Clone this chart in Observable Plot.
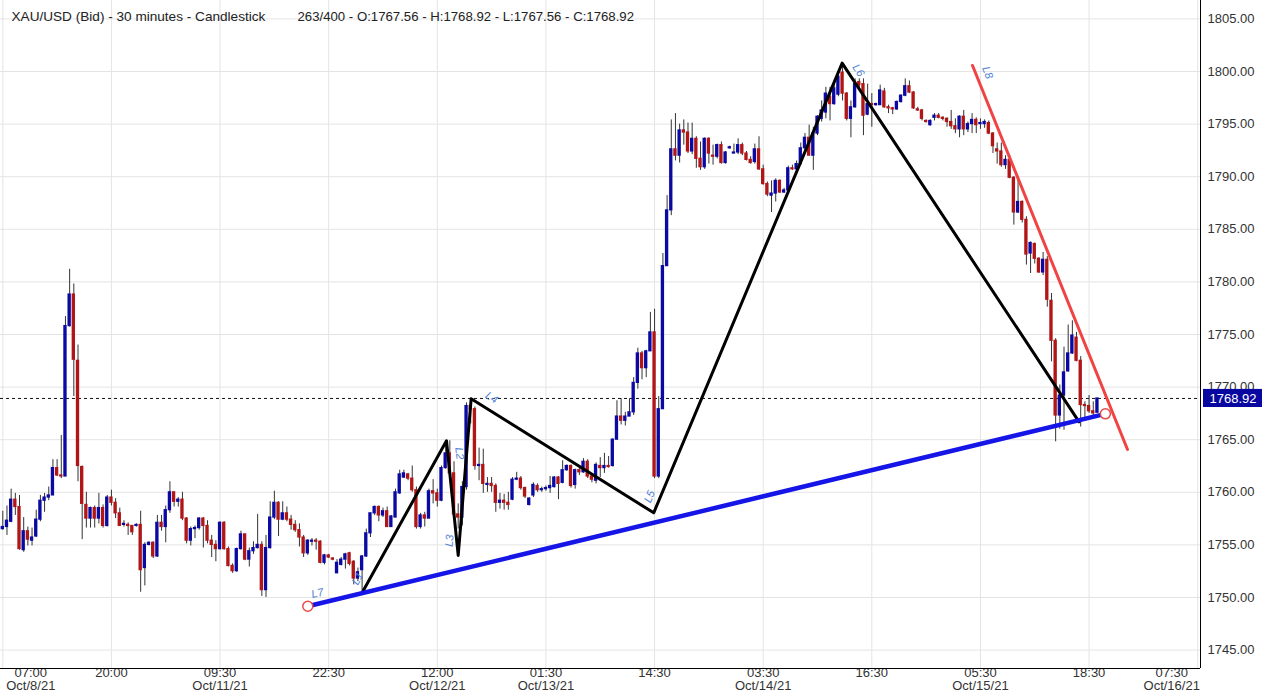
<!DOCTYPE html>
<html>
<head>
<meta charset="utf-8">
<script src="https://cdn.jsdelivr.net/npm/d3@7"></script>
<script src="https://cdn.jsdelivr.net/npm/@observablehq/plot@0.6"></script>
<style>
  html, body { margin: 0; padding: 0; background: #fff; }
</style>
</head>
<body>
<div id="chart"></div>
<script>
// XAU/USD 30 min candles, bar 0 = Oct 8 07:00 ... bar 262 = last bar
const opens = [
  1756.5,1756.7,1757.2,1759.3,1758.6,1754.5,1756.3,1755.4,1755.8,1757.4,
  1759.2,1759.5,1759.7,1762.3,1761.6,1761.5,1775.8,1778.8,1772.5,1762.4,
  1758.8,1757.5,1758.5,1757.5,1758.5,1756.8,1759.5,1759.0,1758.0,1756.9,
  1756.9,1756.8,1756.8,1756.9,1752.8,1755.0,1755.2,1753.9,1757.1,1756.7,
  1758.3,1760.0,1759.1,1759.3,1757.5,1755.4,1756.5,1756.6,1757.5,1756.8,
  1755.4,1755.0,1754.6,1757.1,1754.6,1753.0,1752.5,1754.6,1756.0,1753.6,
  1754.4,1754.7,1755.0,1750.7,1754.7,1757.6,1759.0,1757.4,1758.0,1757.4,
  1756.9,1756.4,1755.7,1754.2,1755.3,1755.4,1755.3,1753.3,1754.0,1753.7,
  1752.3,1753.1,1753.6,1754.2,1753.4,1751.8,1752.6,1753.9,1756.1,1758.0,
  1758.6,1757.8,1758.2,1756.7,1757.6,1759.9,1761.4,1761.7,1761.3,1760.2,
  1756.7,1757.8,1757.5,1760.1,1759.9,1759.2,1762.3,1763.7,1761.8,1757.9,
  1757.6,1760.5,1768.2,1767.9,1762.5,1762.6,1760.7,1760.8,1760.6,1759.0,
  1759.2,1759.0,1759.3,1761.2,1761.3,1760.4,1758.8,1759.7,1760.6,1760.2,
  1760.3,1760.4,1760.5,1761.4,1760.9,1762.1,1762.5,1760.7,1762.1,1761.9,
  1762.9,1761.5,1761.1,1762.5,1762.3,1762.5,1762.5,1765.0,1767.2,1766.8,
  1767.2,1767.6,1770.4,1773.2,1771.8,1773.4,1775.2,1761.5,1767.9,1781.5,
  1786.8,1792.6,1792.0,1794.4,1794.2,1792.4,1793.6,1791.7,1790.9,1793.6,
  1792.0,1791.9,1793.0,1791.3,1792.7,1792.2,1792.3,1793.0,1792.2,1791.6,
  1791.4,1792.6,1790.7,1789.3,1788.2,1788.4,1789.6,1788.5,1788.7,1790.8,
  1790.7,1791.2,1792.7,1793.7,1792.0,1794.1,1795.5,1796.1,1797.6,1796.9,
  1797.8,1799.9,1797.9,1795.5,1796.6,1799.0,1798.8,1795.9,1796.9,1796.8,
  1796.8,1798.1,1796.6,1796.5,1796.4,1797.1,1797.7,1798.6,1798.0,1796.4,
  1796.3,1795.3,1794.9,1795.6,1795.8,1795.6,1795.5,1795.2,1794.8,1794.5,
  1795.7,1794.5,1795.0,1795.4,1795.0,1795.0,1795.1,1794.1,1792.6,1792.4,
  1791.1,1791.6,1789.9,1786.6,1787.6,1785.9,1782.7,1783.6,1782.2,1780.9,
  1782.1,1778.2,1774.4,1767.3,1769.2,1771.5,1773.2,1774.7,1772.5,1768.3,
  1768.2,1767.7,1767.56
];
const highs = [
  1758.2,1758.7,1760.3,1759.9,1759.7,1757.6,1756.7,1756.6,1758.3,1759.7,
  1759.9,1760.5,1763.1,1763.1,1765.4,1776.7,1781.2,1779.8,1774.0,1762.5,
  1760.0,1758.6,1758.7,1759.9,1758.8,1759.7,1760.2,1759.4,1758.5,1757.3,
  1757.1,1756.8,1757.0,1758.2,1755.2,1755.3,1755.3,1757.8,1757.8,1758.7,
  1761.0,1760.0,1759.5,1760.0,1757.6,1756.7,1756.8,1757.6,1757.6,1757.3,
  1755.9,1755.4,1757.2,1757.2,1754.8,1753.2,1754.7,1756.3,1756.0,1754.7,
  1755.3,1757.9,1755.3,1755.9,1759.1,1760.1,1759.1,1759.1,1758.6,1757.8,
  1757.3,1757.0,1755.9,1755.5,1755.6,1755.6,1755.4,1754.1,1754.1,1753.8,
  1753.6,1753.8,1754.2,1754.3,1753.5,1752.8,1754.0,1756.5,1758.0,1758.7,
  1758.7,1758.5,1758.6,1757.8,1760.3,1762.1,1762.1,1761.8,1762.5,1760.5,
  1758.0,1758.1,1760.3,1761.2,1760.3,1762.5,1764.6,1764.9,1762.9,1758.9,
  1761.0,1768.5,1768.9,1768.1,1764.2,1764.1,1761.4,1761.4,1760.8,1759.9,
  1759.8,1760.0,1761.4,1761.9,1761.5,1760.5,1759.5,1760.9,1760.8,1760.5,
  1760.6,1761.5,1761.5,1761.5,1763.0,1762.6,1762.6,1762.2,1762.3,1763.2,
  1763.1,1761.7,1762.8,1763.3,1763.7,1763.4,1765.1,1768.7,1768.9,1767.6,
  1768.9,1770.9,1773.7,1773.4,1773.5,1777.1,1777.4,1769.1,1782.7,1788.2,
  1795.4,1796.0,1795.0,1795.4,1795.1,1795.1,1793.8,1793.3,1793.7,1793.7,
  1793.0,1793.1,1793.3,1792.4,1792.9,1793.1,1793.6,1793.2,1792.4,1791.9,
  1793.1,1793.8,1791.1,1789.5,1789.6,1789.8,1789.7,1788.9,1791.0,1791.1,
  1791.5,1793.2,1794.1,1794.9,1794.7,1795.8,1797.2,1798.5,1798.5,1798.8,
  1799.9,1800.7,1798.0,1797.2,1799.3,1799.3,1799.3,1798.8,1797.9,1797.0,
  1798.7,1798.4,1796.8,1796.6,1797.2,1797.8,1799.3,1799.1,1798.1,1796.6,
  1796.4,1795.4,1795.4,1796.0,1796.0,1795.7,1795.6,1796.3,1795.5,1795.8,
  1796.3,1795.2,1796.0,1795.6,1795.5,1795.4,1795.3,1794.2,1793.2,1793.2,
  1792.0,1792.0,1790.0,1789.9,1787.7,1786.2,1783.8,1783.7,1782.3,1782.8,
  1782.4,1778.9,1774.6,1770.2,1773.8,1775.9,1776.3,1775.2,1772.9,1768.6,
  1769.2,1768.6,1768.92
];
const lows = [
  1756.4,1755.9,1757.1,1757.8,1754.5,1754.3,1754.9,1754.9,1755.7,1757.2,
  1758.1,1759.2,1759.7,1761.5,1761.3,1761.5,1775.7,1769.1,1761.0,1755.5,
  1756.6,1756.6,1756.6,1757.0,1756.6,1756.7,1758.7,1757.5,1756.8,1756.7,
  1755.9,1755.9,1756.7,1750.5,1751.1,1754.9,1753.7,1753.8,1756.3,1755.2,
  1758.0,1758.6,1758.6,1757.3,1755.1,1754.9,1755.6,1756.4,1754.7,1755.1,
  1753.8,1753.4,1754.5,1754.5,1752.9,1752.3,1752.4,1754.5,1753.5,1752.9,
  1754.1,1754.6,1750.1,1750.0,1754.6,1757.4,1755.8,1757.3,1757.2,1756.4,
  1756.2,1754.8,1753.8,1754.0,1754.9,1754.5,1753.2,1753.1,1753.7,1753.5,
  1752.3,1753.0,1752.7,1753.0,1751.2,1751.5,1750.6,1753.8,1755.7,1757.8,
  1757.2,1757.6,1756.7,1756.7,1757.6,1759.8,1761.3,1761.1,1760.0,1756.5,
  1756.5,1756.7,1757.5,1758.9,1758.6,1759.1,1762.2,1761.5,1757.3,1756.5,
  1756.8,1760.2,1766.5,1762.1,1761.1,1759.9,1760.0,1760.0,1758.1,1758.4,
  1758.3,1758.3,1759.2,1761.1,1760.2,1759.4,1758.7,1759.5,1760.0,1760.0,
  1760.1,1759.9,1760.4,1759.3,1760.8,1762.0,1760.4,1760.3,1761.6,1761.8,
  1761.3,1760.9,1760.8,1761.4,1761.8,1762.3,1762.4,1765.0,1766.4,1766.3,
  1767.2,1767.3,1769.8,1770.7,1770.9,1773.4,1761.3,1761.3,1767.9,1781.5,
  1786.3,1791.5,1791.3,1793.0,1792.2,1792.1,1790.8,1790.6,1790.7,1791.2,
  1791.1,1791.7,1791.2,1791.2,1792.6,1792.2,1792.1,1792.0,1791.5,1791.2,
  1791.2,1790.6,1789.2,1788.1,1786.6,1787.6,1788.4,1788.4,1788.5,1790.6,
  1790.6,1791.1,1792.5,1792.0,1790.6,1793.9,1795.2,1795.5,1795.3,1796.8,
  1797.6,1797.2,1795.3,1793.7,1796.5,1798.4,1793.9,1795.8,1794.7,1796.7,
  1796.8,1796.5,1796.0,1795.9,1796.3,1797.0,1797.6,1797.9,1796.4,1796.2,
  1795.3,1795.1,1794.8,1795.3,1795.5,1795.3,1794.7,1794.5,1794.1,1793.7,
  1793.9,1794.2,1794.1,1794.1,1794.5,1794.6,1794.0,1792.2,1791.2,1790.9,
  1790.7,1789.8,1785.4,1786.5,1785.6,1781.6,1780.8,1781.7,1780.8,1780.6,
  1777.6,1772.4,1764.8,1766.0,1765.9,1771.4,1773.1,1772.4,1766.2,1767.1,
  1767.5,1767.3,1767.56
];
const closes = [
  1756.7,1757.3,1759.3,1758.6,1754.6,1756.3,1755.5,1755.7,1757.4,1759.2,
  1759.5,1759.7,1762.3,1761.6,1761.5,1775.8,1778.8,1772.6,1762.5,1758.9,
  1757.5,1758.5,1757.5,1758.5,1756.8,1759.5,1759.0,1758.0,1756.8,1757.0,
  1756.8,1756.2,1756.9,1752.6,1755.0,1755.2,1753.9,1757.1,1756.7,1758.3,
  1760.0,1759.1,1759.3,1757.5,1755.4,1756.5,1756.6,1757.5,1756.8,1755.4,
  1755.0,1754.6,1757.1,1754.6,1753.0,1752.5,1754.6,1756.0,1753.6,1754.4,
  1754.7,1755.0,1750.7,1754.7,1757.6,1759.0,1757.4,1758.0,1757.4,1756.9,
  1756.4,1755.7,1754.2,1755.4,1755.4,1755.3,1753.3,1754.0,1753.8,1753.6,
  1753.3,1753.6,1754.1,1753.2,1751.8,1752.4,1753.9,1756.1,1758.0,1758.6,
  1757.8,1758.2,1756.7,1757.7,1760.0,1761.7,1761.8,1761.3,1760.2,1756.7,
  1757.8,1757.5,1760.1,1759.9,1759.2,1762.3,1763.7,1761.8,1757.9,1757.6,
  1760.5,1768.2,1767.9,1762.5,1762.6,1760.8,1760.8,1760.6,1759.0,1759.2,
  1759.0,1758.8,1761.2,1761.3,1760.4,1759.6,1759.4,1760.7,1760.2,1760.3,
  1760.4,1760.6,1761.4,1760.8,1762.1,1762.5,1760.6,1762.1,1761.9,1762.9,
  1761.5,1761.2,1762.6,1762.3,1762.5,1762.4,1765.0,1767.2,1766.8,1767.2,
  1767.6,1770.4,1773.2,1771.8,1773.4,1775.2,1761.5,1767.9,1781.5,1786.8,
  1792.6,1792.0,1794.4,1794.2,1792.4,1793.6,1791.7,1790.9,1793.6,1792.2,
  1791.9,1793.0,1791.3,1792.3,1792.8,1792.3,1793.0,1792.2,1791.6,1791.3,
  1792.6,1790.7,1789.3,1788.3,1788.4,1789.6,1788.5,1788.7,1790.8,1790.7,
  1791.2,1792.7,1793.7,1792.0,1794.1,1795.7,1796.3,1797.9,1796.9,1798.4,
  1799.5,1797.9,1795.5,1796.6,1798.8,1798.7,1795.8,1796.9,1796.8,1796.9,
  1798.2,1796.6,1796.5,1796.4,1797.1,1797.7,1798.6,1798.0,1796.5,1796.3,
  1795.5,1795.2,1795.3,1795.8,1795.6,1795.5,1795.2,1794.8,1794.5,1795.7,
  1794.5,1795.0,1795.4,1794.9,1795.1,1795.2,1794.1,1792.9,1792.4,1791.1,
  1791.6,1789.9,1786.6,1787.6,1785.9,1782.6,1783.7,1782.2,1780.9,1782.1,
  1778.3,1774.4,1767.3,1769.2,1771.4,1773.2,1774.9,1772.5,1768.3,1768.2,
  1767.7,1767.5,1768.92
];

// x-axis labels every 26 bars
const tickBars = [0, 26, 52, 78, 104, 130, 156, 182, 208, 234, 260, 286];
const tickTime = ["07:00","20:00","09:30","22:30","12:00","01:30","14:30","03:30","16:30","05:30","18:30","07:30"];
const tickDate = ["Oct/8/21","","Oct/11/21","","Oct/12/21","Oct/13/21","","Oct/14/21","","Oct/15/21","","Oct/16/21"];
const priceTicks = [1745, 1750, 1755, 1760, 1765, 1770, 1775, 1780, 1785, 1790, 1795, 1800, 1805];

// drawn studies (bar position, price)
const zigzagBar = [86.2, 106.2, 109.0, 112.1, 155.8, 200.9, 257.6];
const zigzagPrice = [1750.6, 1764.9, 1754.0, 1768.9, 1758.05, 1800.8, 1766.7];
const blueBar = [73.0, 263.9];
const bluePrice = [1749.17, 1767.46];
const redBar = [232.1, 269.2];
const redPrice = [1800.57, 1764.07];
const tagText = ["L7", "L1", "L3", "L2", "L4", "L5", "L6", "L8"];
const tagBar = [75.3, 84.9, 106.9, 109.3, 117.0, 154.8, 204.8, 235.7];
const tagPrice = [1750.4, 1751.8, 1755.4, 1763.7, 1769.0, 1759.6, 1800.1, 1799.9];
const tagAngle = [-13, -61, -85, 84, 33, -67, 56, 68];

const headLeft = "XAU/USD (Bid) - 30 minutes - Candlestick";
const headRight = "263/400 - O:1767.56 - H:1768.92 - L:1767.56 - C:1768.92";

const candles = closes.map((c, i) => ({i, o: opens[i], h: highs[i], l: lows[i], c}));
const up = candles.filter(d => d.c >= d.o);
const down = candles.filter(d => d.c < d.o);
const last = closes[closes.length - 1];
const ticks = tickBars.map((b, k) => ({b, t: tickDate[k] ? tickTime[k] + "\n" + tickDate[k] : tickTime[k]}));
const zigzag = zigzagBar.map((b, k) => ({b, p: zigzagPrice[k]}));
const blueLine = blueBar.map((b, k) => ({b, p: bluePrice[k]}));
const redLine = redBar.map((b, k) => ({b, p: redPrice[k]}));
const tags = tagText.map((t, k) => ({t, b: tagBar[k], p: tagPrice[k], r: tagAngle[k]}));

const xMin = -0.55, xMax = 286.67;
const yMin = 1743.25, yMax = 1806.75;
const gridColor = "#e4e4e4";

let chart = Plot.plot({
  width: 1265,
  height: 693,
  marginLeft: 0,
  marginRight: 65,
  marginTop: 0,
  marginBottom: 25,
  x: {domain: [xMin, xMax], axis: null},
  y: {domain: [yMin, yMax], axis: null},
  style: {
    fontFamily: "'Liberation Sans', Arial, sans-serif",
    fontSize: "13px",
    color: "#333",
    background: "white"
  },
  marks: [
    Plot.gridY(priceTicks, {stroke: gridColor, strokeOpacity: 1}),
    Plot.gridX(tickBars, {stroke: gridColor, strokeOpacity: 1}),
    Plot.axisY(priceTicks, {anchor: "right", tickSize: 0, tickPadding: 7, tickFormat: d => d.toFixed(2), label: null, fontSize: 13}),
    // x labels (first and last pushed inside like the original)
    Plot.text(ticks.slice(0, 1), {x: "b", text: "t", frameAnchor: "bottom", lineAnchor: "top", lineHeight: 1.0, dy: -1, dx: 28, fontSize: 13}),
    Plot.text(ticks.slice(1, -1), {x: "b", text: "t", frameAnchor: "bottom", lineAnchor: "top", lineHeight: 1.0, dy: -1, fontSize: 13}),
    Plot.text(ticks.slice(-1), {x: "b", text: "t", frameAnchor: "bottom", lineAnchor: "top", lineHeight: 1.0, dy: -1, dx: -26, fontSize: 13}),
    Plot.ruleY([last], {stroke: "#111", strokeDasharray: "3,3"}),
    // candles
    Plot.ruleX(candles, {x: "i", y1: "l", y2: "h", stroke: "#333", strokeWidth: 1}),
    Plot.rect(up, {x1: d => d.i - 0.4, x2: d => d.i + 0.4, y1: "o", y2: "c", insetTop: -0.6, insetBottom: -0.6, fill: "#0a0aa3"}),
    Plot.rect(down, {x1: d => d.i - 0.4, x2: d => d.i + 0.4, y1: "c", y2: "o", insetTop: -0.6, insetBottom: -0.6, fill: "#b01616"}),
    // studies
    Plot.line(zigzag, {x: "b", y: "p", stroke: "black", strokeWidth: 3}),
    Plot.line(blueLine, {x: "b", y: "p", stroke: "#1515e8", strokeWidth: 4.5}),
    Plot.line(redLine, {x: "b", y: "p", stroke: "#f04444", strokeWidth: 3}),
    Plot.dot(blueLine, {x: "b", y: "p", r: 5, fill: "white", stroke: "#e84a4a", strokeWidth: 1.5}),
    Plot.text(tags, {x: "b", y: "p", text: "t", rotate: "r", fill: "#4f82d6", fontSize: 11, fontStyle: "italic"}),
    // frame on right and bottom
    Plot.ruleY([yMin], {stroke: "black"}),
    Plot.ruleX([xMax], {stroke: "black"}),
    // last price tag
    Plot.rect([last], {x1: xMax, x2: xMax, y1: d => d - 0.86, y2: d => d + 0.86, insetLeft: 3, insetRight: -62, fill: "#0808a0"}),
    Plot.text([last], {x: xMax, y: d => d, text: d => d.toFixed(2), dx: 32.5, fill: "white", fontSize: 13}),
    // header
    Plot.text([headLeft], {frameAnchor: "top-left", lineAnchor: "top", dx: 11, dy: 11, fill: "#222", fontSize: 13.6}),
    Plot.text([headRight], {frameAnchor: "top-left", lineAnchor: "top", dx: 297, dy: 11, fill: "#222", fontSize: 13.2})
  ]
});

d3.select("#chart").append(() => chart);
</script>
</body>
</html>
